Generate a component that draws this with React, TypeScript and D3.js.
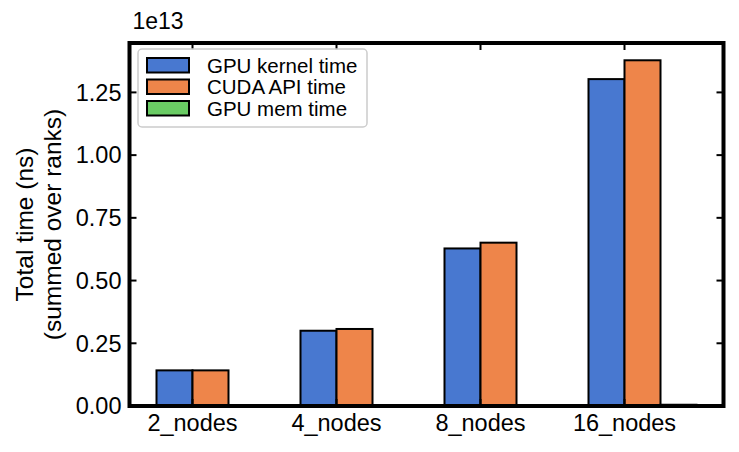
import React, { useEffect, useRef } from "react";
import * as d3 from "d3";

const categories = ["2_nodes", "4_nodes", "8_nodes", "16_nodes"];
const seriesNames = ["GPU kernel time", "CUDA API time", "GPU mem time"];
const gpuKernel = [0.142e13, 0.3e13, 0.628e13, 1.303e13];
const cudaApi = [0.142e13, 0.307e13, 0.651e13, 1.378e13];
const gpuMem = [0.0003e13, 0.0007e13, 0.0015e13, 0.005e13];
const yTicks = [0, 0.25e13, 0.5e13, 0.75e13, 1.0e13, 1.25e13];
const colors = ["#4878d0", "#ee854a", "#6acc64"];

const W = 739;
const H = 452;

const App = () => {
  const ref = useRef<SVGSVGElement>(null);

  useEffect(() => {
    const svg = d3.select(ref.current);
    svg.selectAll("*").remove();

    const left = 129.5, right = 723.5, top = 43, bottom = 406;
    const font = "Liberation Sans, Arial, sans-serif";
    const series = [gpuKernel, cudaApi, gpuMem];
    const w = 0.25;

    const x = d3.scaleLinear().domain([-0.4375, 3.6875]).range([left, right]);
    const maxV = d3.max(series.flat()) as number;
    const y = d3.scaleLinear().domain([0, maxV * 1.05]).range([bottom, top]);

    // bars
    series.forEach((vals, k) => {
      svg
        .append("g")
        .selectAll("rect")
        .data(vals)
        .join("rect")
        .attr("x", (_, i) => x(i - w + k * w))
        .attr("width", x(w) - x(0))
        .attr("y", (d) => y(d))
        .attr("height", (d) => y(0) - y(d))
        .attr("fill", colors[k])
        .attr("stroke", "#000")
        .attr("stroke-width", 2);
    });

    // ticks (inward on all four sides)
    const tl = 7;
    const tk = svg.append("g").attr("stroke", "#000").attr("stroke-width", 2);
    yTicks.forEach((t) => {
      tk.append("line").attr("x1", left).attr("x2", left + tl).attr("y1", y(t)).attr("y2", y(t));
      tk.append("line").attr("x1", right).attr("x2", right - tl).attr("y1", y(t)).attr("y2", y(t));
    });
    categories.forEach((_, i) => {
      tk.append("line").attr("x1", x(i)).attr("x2", x(i)).attr("y1", bottom).attr("y2", bottom - tl);
      tk.append("line").attr("x1", x(i)).attr("x2", x(i)).attr("y1", top).attr("y2", top + tl);
    });

    // frame
    svg
      .append("rect")
      .attr("x", left)
      .attr("y", top)
      .attr("width", right - left)
      .attr("height", bottom - top)
      .attr("fill", "none")
      .attr("stroke", "#000")
      .attr("stroke-width", 4);

    // tick labels
    svg
      .append("g")
      .selectAll("text")
      .data(yTicks)
      .join("text")
      .attr("x", left - 8)
      .attr("y", (d) => y(d))
      .attr("dy", "0.35em")
      .attr("text-anchor", "end")
      .style("font-family", font)
      .style("font-size", "23.5px")
      .text((d) => (d / 1e13).toFixed(2));

    svg
      .append("g")
      .selectAll("text")
      .data(categories)
      .join("text")
      .attr("x", (_, i) => x(i))
      .attr("y", bottom + 25)
      .attr("text-anchor", "middle")
      .style("font-family", font)
      .style("font-size", "23.5px")
      .text((d) => d);

    svg
      .append("text")
      .attr("x", left + 3)
      .attr("y", 29)
      .style("font-family", font)
      .style("font-size", "23px")
      .text("1e13");

    // y label
    const cy = (top + bottom) / 2;
    const yl = svg
      .append("text")
      .attr("transform", `translate(0,${cy}) rotate(-90)`)
      .attr("text-anchor", "middle")
      .style("font-family", font)
      .style("font-size", "24.5px");
    yl.append("tspan").attr("x", 0).attr("y", 33).text("Total time (ns)");
    yl.append("tspan").attr("x", 0).attr("y", 61).text("(summed over ranks)");

    // legend
    const lg = svg.append("g");
    lg.append("rect")
      .attr("x", 138)
      .attr("y", 49)
      .attr("width", 229)
      .attr("height", 78)
      .attr("rx", 4)
      .attr("fill", "#fff")
      .attr("fill-opacity", 0.8)
      .attr("stroke", "#cccccc")
      .attr("stroke-width", 1.5);
    seriesNames.forEach((name, k) => {
      const ry = 58 + k * 21.5;
      lg.append("rect")
        .attr("x", 147)
        .attr("y", ry)
        .attr("width", 42)
        .attr("height", 14.5)
        .attr("fill", colors[k])
        .attr("stroke", "#000")
        .attr("stroke-width", 2);
      lg.append("text")
        .attr("x", 207)
        .attr("y", ry + 7.5)
        .attr("dy", "0.35em")
        .style("font-family", font)
        .style("font-size", "20.5px")
        .text(name);
    });
  }, []);

  return <svg ref={ref} width={W} height={H} style={{ display: "block", margin: -8 }}></svg>;
};

export default App;
